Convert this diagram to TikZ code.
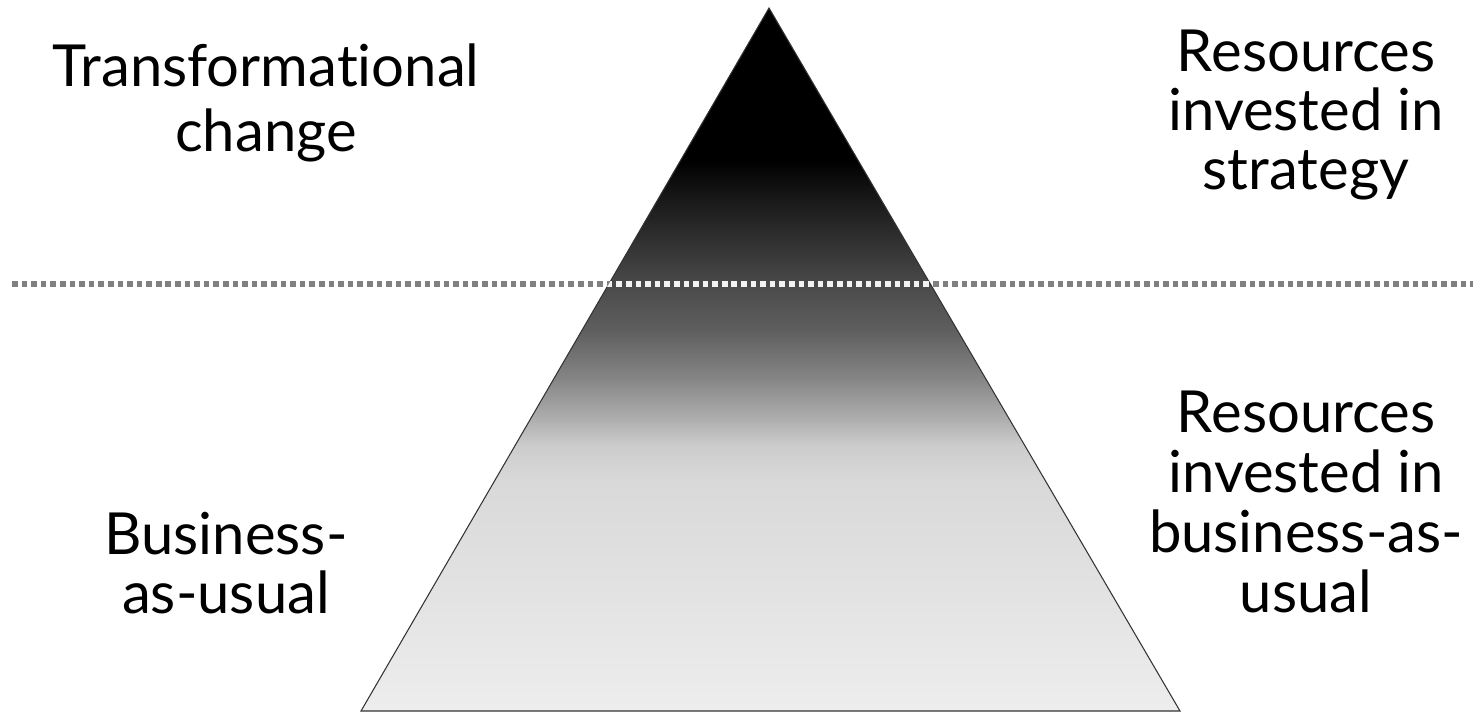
\documentclass[tikz,border=0pt]{standalone}
\usepackage{fontspec}
\setmainfont{Lato}[Ligatures=NoCommon]
\usepackage{xcolor}
\usepackage{tikz}
\usetikzlibrary{positioning}
\pgfdeclareverticalshading{pyramid}{100bp}{color(0bp)=(black!7); color(25bp)=(black!7); color(41.4bp)=(black!15); color(43.9bp)=(black!20); color(45.65bp)=(black!31); color(48.5bp)=(black!47); color(52.1bp)=(black!63); color(55.3bp)=(black!71); color(61.3bp)=(black!90); color(64.2bp)=(black); color(100bp)=(black)}
\tikzset{
  lbl/.style={align=center,inner sep=0pt,font=\fontsize{33}{33.5}\selectfont},
  tri/.style={draw=black!80,line width=0.6pt,shading=pyramid},
  sep/.style={line width=3.3pt,dash pattern=on 3.2pt off 2.26pt}
}

\begin{document}
\begin{tikzpicture}[x=0.02cm,y=-0.02cm]
\useasboundingbox (0,0) rectangle (1473,714);
\coordinate (apex) at (769,8);
\coordinate (bl) at (361,711);
\coordinate (br) at (1180,711);
\coordinate (s0) at (12,284);
\coordinate (s1) at (1473,284);
\draw[tri] (apex) -- (br) -- (bl) -- cycle;
\draw[sep,black!50] (s0) -- (s1);
\begin{scope}
\clip (apex) -- (br) -- (bl) -- cycle;
\draw[sep,black!5] (s0) -- (s1);
\end{scope}
\node[lbl,font=\fontsize{33}{37}\selectfont] (trans) at (266,103) {Transformational\\change};
\node[lbl] (resstr) at (1306,115) {Resources\\invested in\\strategy};
\node[lbl] (bau) at (226,563) {Business-\\as-usual};
\node[lbl,font=\fontsize{33}{34}\selectfont] (resbau) at (1306,502) {Resources\\invested in\\business-as-\\usual};
\end{tikzpicture}
\end{document}
